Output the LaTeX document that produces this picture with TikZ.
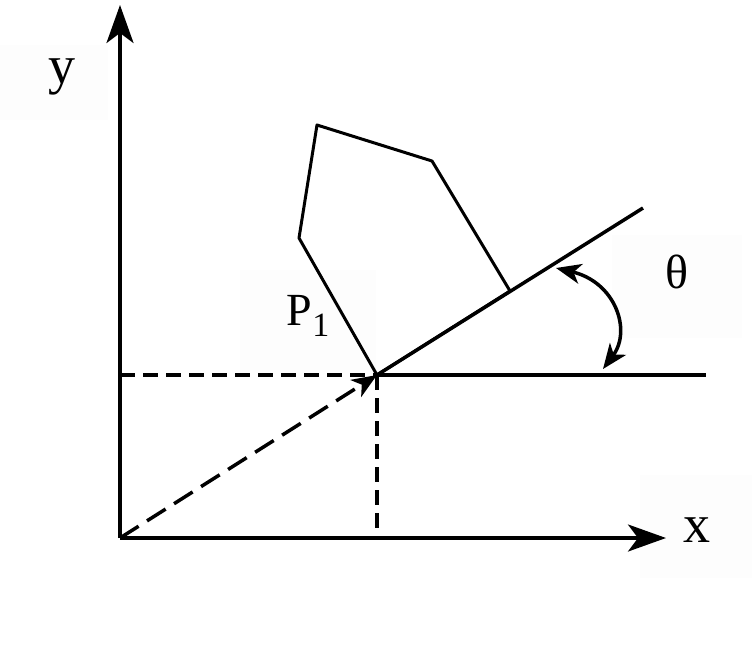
\documentclass[tikz,border=0pt]{standalone}
\usepackage{fontspec}
\setmainfont{Liberation Serif}
\usetikzlibrary{arrows.meta}
\tikzset{
  ln/.style={line width=3.5pt},
  bigarrow/.style={-{Stealth[length=38pt,width=27pt,inset=10pt]}},
  smallarrow/.style={-{Stealth[length=25pt,width=20pt,inset=7pt]}},
  dsh/.style={ln,dash pattern=on 15pt off 8pt},
  ldsh/.style={ln,dash pattern=on 22pt off 10pt},
  lbl/.style={font=\fontsize{54}{60}\selectfont,inner sep=0pt},
  bgbox/.style={fill=black!0.6,draw=none}
}
\begin{document}
\begin{tikzpicture}[x=1pt,y=-1pt]
\useasboundingbox[fill=white] (0,0) rectangle (752,665);
% faint label backgrounds
\fill[bgbox] (0,45) rectangle (108,120);
\fill[bgbox] (240,270) rectangle (376,370);
\fill[bgbox] (612,235) rectangle (742,338);
\fill[bgbox] (640,475) rectangle (752,578);
% points
\coordinate (O) at (120,538);
\coordinate (Ytop) at (120,5);
\coordinate (Xend) at (666,538);
\coordinate (P) at (377,375);
\coordinate (Hend) at (706,375);
\coordinate (Hstart) at (120,375);
\coordinate (Vfoot) at (377,538);
\coordinate (Tend) at (643,208);
\coordinate (A) at (299,238);
\coordinate (B) at (317,125);
\coordinate (C) at (432,161);
\coordinate (D) at (510,291);
\coordinate (R1) at (556,268);
\coordinate (R2) at (603,369);
% axes
\draw[ln,bigarrow] (O) -- (Ytop);
\draw[ln,bigarrow] (O) -- (Xend);
% dashed
\draw[dsh] (Hstart) -- (P);
\draw[dsh] (P) -- (Vfoot);
\draw[ldsh,smallarrow] (O) -- (P);
% lines
\draw[ln] (P) -- (Hend);
\draw[ln] (P) -- (Tend);
\draw[ln,line width=3pt,line join=round] (P) -- (A) -- (B) -- (C) -- (D) -- cycle;
% angle arc
\draw[ln,{Stealth[length=25pt,width=20pt,inset=7pt]}-{Stealth[length=25pt,width=20pt,inset=7pt]}]
  (R1) .. controls (615,282) and (632,330) .. (R2);
% labels
\node[lbl] (ylab) at (62,77) {y};
\node[lbl,font=\fontsize{46}{52}\selectfont] (plab) at (308,316) {P\raisebox{-0.25em}{\fontsize{34}{40}\selectfont 1}};
\node[lbl,font=\fontsize{48}{54}\selectfont] (tlab) at (677,272) {θ};
\node[lbl] (xlab) at (697,530) {x};
\end{tikzpicture}
\end{document}
